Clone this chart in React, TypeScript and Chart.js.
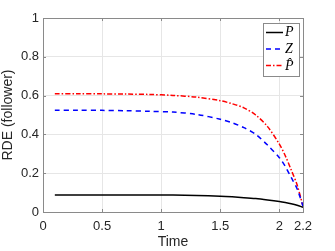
import React, { useEffect, useRef } from "react";
import { Chart, registerables } from "chart.js";

Chart.register(...registerables);

const time = [0.1, 0.3, 0.5, 0.7, 0.9, 1.1, 1.3, 1.5, 1.6, 1.7, 1.8, 1.9, 2.0, 2.05, 2.1, 2.15, 2.2];
const seriesP = [0.088, 0.088, 0.088, 0.088, 0.088, 0.087, 0.085, 0.081, 0.078, 0.074, 0.069, 0.062, 0.054, 0.049, 0.043, 0.035, 0.024];
const seriesZ = [0.525, 0.525, 0.524, 0.522, 0.519, 0.515, 0.503, 0.478, 0.46, 0.435, 0.4, 0.345, 0.28, 0.235, 0.178, 0.12, 0.03];
const seriesPhat = [0.61, 0.61, 0.609, 0.608, 0.606, 0.601, 0.592, 0.574, 0.558, 0.537, 0.5, 0.44, 0.35, 0.29, 0.217, 0.14, 0.03];
const xTicks = [0, 0.5, 1, 1.5, 2, 2.2];
const yTicks = [0, 0.2, 0.4, 0.6, 0.8, 1];
const labels = ["P", "Z", "P\u0302"];

const pts = (ys: number[]) => time.map((t, i) => ({ x: t, y: ys[i] }));

const AXIS = "#262626";
const BORDER = "#8a8a8a";
const GRID = "#e6e6e6";
const SANS = "'Liberation Sans', Arial, sans-serif";

const boxLegend = {
  id: "boxLegend",
  afterDraw(chart: any) {
    const { ctx, chartArea } = chart;
    const ds = chart.data.datasets;
    const w = 36, h = 53;
    const x0 = chartArea.right - 4 - w;
    const y0 = chartArea.top + 5;
    ctx.save();
    ctx.fillStyle = "#fff";
    ctx.fillRect(x0, y0, w, h);
    ctx.strokeStyle = BORDER;
    ctx.lineWidth = 1;
    ctx.strokeRect(x0 + 0.5, y0 + 0.5, w, h);
    ds.forEach((d: any, i: number) => {
      const y = y0 + 9.5 + i * 16.5;
      ctx.beginPath();
      ctx.setLineDash(d.borderDash || []);
      ctx.strokeStyle = d.borderColor;
      ctx.lineWidth = d.borderWidth;
      ctx.moveTo(x0 + 3, y);
      ctx.lineTo(x0 + 20, y);
      ctx.stroke();
      ctx.setLineDash([]);
      ctx.fillStyle = "#000";
      ctx.font = "italic 14px 'Liberation Serif', serif";
      ctx.textBaseline = "middle";
      ctx.textAlign = "left";
      ctx.fillText(d.label, x0 + 22, y + (i === 2 ? 1 : 0));
    });
    ctx.restore();
  },
};

const boxFrame = {
  id: "boxFrame",
  afterDatasetsDraw(chart: any) {
    const { ctx, chartArea } = chart;
    const { left, right, top, bottom } = chartArea;
    const xs = chart.scales.x, ys = chart.scales.y;
    ctx.save();
    ctx.strokeStyle = BORDER;
    ctx.lineWidth = 1;
    ctx.strokeRect(Math.round(left) + 0.5, Math.round(top) + 0.5, Math.round(right - left), Math.round(bottom - top));
    ctx.beginPath();
    xTicks.forEach((v) => {
      const px = Math.round(xs.getPixelForValue(v)) + 0.5;
      ctx.moveTo(px, bottom);
      ctx.lineTo(px, bottom - 3);
      ctx.moveTo(px, top);
      ctx.lineTo(px, top + 3);
    });
    yTicks.forEach((v) => {
      const py = Math.round(ys.getPixelForValue(v)) + 0.5;
      ctx.moveTo(left, py);
      ctx.lineTo(left + 3, py);
      ctx.moveTo(right, py);
      ctx.lineTo(right - 3, py);
    });
    ctx.stroke();
    ctx.restore();
  },
};

export default function App() {
  const ref = useRef<HTMLCanvasElement>(null);
  useEffect(() => {
    if (!ref.current) return;
    const chart = new Chart(ref.current, {
      type: "line",
      data: {
        datasets: [
          { label: labels[0], data: pts(seriesP), borderColor: "#000000", borderWidth: 1.5, pointRadius: 0, fill: false, tension: 0.3 },
          { label: labels[1], data: pts(seriesZ), borderColor: "#0000ff", borderWidth: 1.5, borderDash: [5, 4], pointRadius: 0, fill: false, tension: 0.3 },
          { label: labels[2], data: pts(seriesPhat), borderColor: "#ff0000", borderWidth: 1.5, borderDash: [5, 2, 1.5, 2], pointRadius: 0, fill: false, tension: 0.3 },
        ],
      },
      options: {
        animation: false,
        responsive: false,
        maintainAspectRatio: false,
        layout: { padding: { top: 18, right: 32, left: 0, bottom: 0 } },
        plugins: { legend: { display: false }, tooltip: { enabled: false } },
        scales: {
          x: {
            type: "linear",
            min: 0,
            max: 2.2,
            afterBuildTicks: (s: any) => { s.ticks = xTicks.map((v) => ({ value: v })); },
            afterFit: (s: any) => { s.height = 39; },
            ticks: {
              autoSkip: false,
              maxRotation: 0,
              color: AXIS,
              font: { family: SANS, size: 13 },
              padding: 7,
              callback: (v: any) => String(Math.round(Number(v) * 10) / 10),
            },
            grid: { color: GRID, drawTicks: false, lineWidth: 1 },
            border: { display: false },
            title: { display: true, text: "Time", color: AXIS, font: { family: SANS, size: 14 }, padding: { top: 0, bottom: 0 } },
          },
          y: {
            min: 0,
            max: 1,
            afterBuildTicks: (s: any) => { s.ticks = yTicks.map((v) => ({ value: v })); },
            afterFit: (s: any) => { s.width = 43; },
            ticks: {
              color: AXIS,
              font: { family: SANS, size: 13 },
              padding: 4,
              callback: (v: any) => String(Math.round(Number(v) * 10) / 10),
            },
            grid: { color: GRID, drawTicks: false, lineWidth: 1 },
            border: { display: false },
            title: { display: true, text: "RDE (follower)", color: AXIS, font: { family: SANS, size: 14 }, padding: { top: 0, bottom: 2 } },
          },
        },
      },
      plugins: [boxFrame, boxLegend],
    });
    return () => chart.destroy();
  }, []);
  return (
    <div style={{ position: "fixed", left: 0, top: 0, width: 335, height: 251, background: "#fff" }}>
      <canvas ref={ref} width={335} height={251} style={{ width: 335, height: 251 }} />
    </div>
  );
}
